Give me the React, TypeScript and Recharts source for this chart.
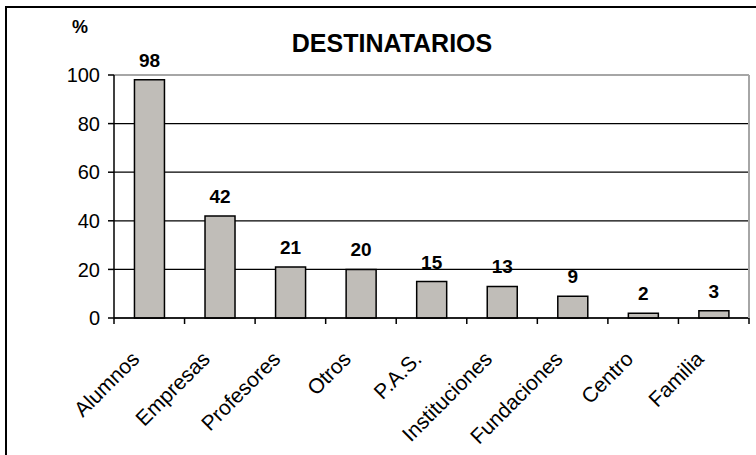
import { Bar, BarChart, CartesianGrid, LabelList, ReferenceLine, XAxis, YAxis } from 'recharts'

const categories = [
  'Alumnos',
  'Empresas',
  'Profesores',
  'Otros',
  'P.A.S.',
  'Instituciones',
  'Fundaciones',
  'Centro',
  'Familia',
]
const percentages = [98, 42, 21, 20, 15, 13, 9, 2, 3]
const yTicks = [0, 20, 40, 60, 80, 100]

const chartData = categories.map((name, i) => ({ name, value: percentages[i] }))

const font = '"Liberation Sans", Arial, sans-serif'
const width = 756
const height = 455
const margin = { top: 75, right: 0, bottom: 0, left: 0 }
const yAxisWidth = 114
const rightAxisWidth = 7
const bandWidth = (width - yAxisWidth - rightAxisWidth) / categories.length

// category labels slant up to the right and end just under the band centre;
// tick marks sit on the band edges
function CategoryTick(props: any) {
  const { x, y, payload, index } = props
  const left = x - bandWidth / 2
  const tx = x - 14
  const ty = y + 37
  return (
    <g>
      <line x1={left} x2={left} y1={y} y2={y + 6} stroke="#000" strokeWidth={1.5} />
      {index === categories.length - 1 && (
        <line x1={x + bandWidth / 2} x2={x + bandWidth / 2} y1={y} y2={y + 6} stroke="#000" strokeWidth={1.5} />
      )}
      <text
        x={tx}
        y={ty}
        textAnchor="end"
        dominantBaseline="central"
        transform={`rotate(-45, ${tx}, ${ty})`}
        fontFamily={font}
        fontSize={21}
        fill="#000"
      >
        {payload.value}
      </text>
    </g>
  )
}

export default function App() {
  return (
    <div style={{ position: 'absolute', left: 0, top: 0, width, height, background: '#fff' }}>
      <div
        style={{
          position: 'absolute',
          left: 5,
          top: 6,
          right: 0,
          bottom: 0,
          borderLeft: '2px solid #000',
          borderTop: '2px solid #000',
        }}
      />
      <div style={{ position: 'absolute', left: 0, top: 0 }}>
        <BarChart width={width} height={height} data={chartData} margin={margin} barCategoryGap="29%">
          <text x={392} y={52} textAnchor="middle" fontFamily={font} fontSize={25} fontWeight="bold" fill="#000">
            DESTINATARIOS
          </text>
          <text x={80} y={33} textAnchor="middle" fontFamily={font} fontSize={18} fontWeight="bold" fill="#000">
            %
          </text>
          <CartesianGrid vertical={false} stroke="#000" strokeWidth={1.2} />
          <XAxis
            dataKey="name"
            interval={0}
            height={height - 318}
            axisLine={{ stroke: '#000', strokeWidth: 1.5 }}
            tickLine={false}
            tickSize={0}
            tickMargin={0}
            tick={<CategoryTick />}
          />
          <YAxis
            domain={[0, 100]}
            ticks={yTicks}
            width={yAxisWidth}
            axisLine={{ stroke: '#000', strokeWidth: 1.5 }}
            tickLine={{ stroke: '#000', strokeWidth: 1.5 }}
            tickSize={6}
            tickMargin={8}
            tick={{ fontFamily: font, fontSize: 20, fill: '#000' }}
          />
          <YAxis
            yAxisId="frame"
            orientation="right"
            width={rightAxisWidth}
            axisLine={{ stroke: '#a6a6a6', strokeWidth: 2 }}
            tick={false}
            tickLine={false}
          />
          <ReferenceLine y={100} stroke="#a6a6a6" strokeWidth={2} />
          <Bar dataKey="value" fill="#c0bdb8" stroke="#000" strokeWidth={1.5} isAnimationActive={false}>
            <LabelList
              dataKey="value"
              position="top"
              offset={13}
              fontFamily={font}
              fontSize={19}
              fontWeight="bold"
              fill="#000"
            />
          </Bar>
        </BarChart>
      </div>
    </div>
  )
}
